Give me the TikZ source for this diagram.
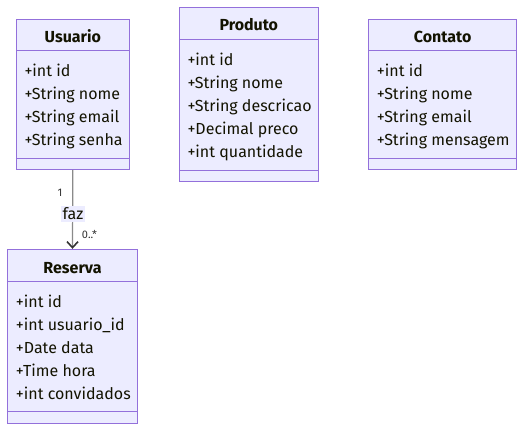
\documentclass[tikz,border=0pt]{standalone}
\usepackage{fontspec}
\setmainfont{Fira Sans}
\usetikzlibrary{arrows.meta}
\definecolor{classfill}{HTML}{ECECFF}
\definecolor{classline}{HTML}{9370DB}
\definecolor{classtext}{HTML}{131300}
\definecolor{edgeline}{HTML}{8A8A8A}
\definecolor{edgehead}{HTML}{333333}

\begin{document}
\begin{tikzpicture}[x=1pt, y=-1pt,
		classbox/.style={draw=classline, fill=classfill, line width=1pt, inner sep=0pt},
		sepline/.style={draw=classline, line width=1pt},
		classtitle/.style={anchor=base, inner sep=0pt, text=classtext, font=\fontsize{16}{19}\selectfont\bfseries},
		attr/.style={anchor=base west, inner sep=0pt, text=classtext, font=\fontsize{16}{19}\selectfont},
		mult/.style={inner sep=0pt, text=edgehead, font=\fontsize{11}{13}\selectfont},
		edgelabel/.style={fill=classfill, inner xsep=1.5pt, inner ysep=2pt, text=classtext, font=\fontsize{16}{19}\selectfont}]
			%%%%% START %%%%%
			\useasboundingbox (0, 0) rectangle (524, 431);
			
			% Usuario
			\node[classbox, minimum width=113pt, minimum height=150pt] (usuario) at (72.8, 94.3) {};
			\draw[sepline] (usuario.west |- 0, 50.7) -- (usuario.east |- 0, 50.7);
			\draw[sepline] (usuario.west |- 0, 158.7) -- (usuario.east |- 0, 158.7);
			\node[classtitle] (usuariotitle) at (72.8, 42) {Usuario};
			\node[attr] (u1) at (24.3, 76) {+int id};
			\node[attr] (u2) at (24.3, 99) {+String nome};
			\node[attr] (u3) at (24.3, 122) {+String email};
			\node[attr] (u4) at (24.3, 145) {+String senha};
			
			% Produto
			\node[classbox, minimum width=139pt, minimum height=173.7pt] (produto) at (248.8, 94.2) {};
			\draw[sepline] (produto.west |- 0, 39) -- (produto.east |- 0, 39);
			\draw[sepline] (produto.west |- 0, 170) -- (produto.east |- 0, 170);
			\node[classtitle] (produtotitle) at (248.8, 30.8) {Produto};
			\node[attr] (p1) at (187.3, 65.7) {+int id};
			\node[attr] (p2) at (187.3, 88.7) {+String nome};
			\node[attr] (p3) at (187.3, 111.7) {+String descricao};
			\node[attr] (p4) at (187.3, 134.7) {+Decimal preco};
			\node[attr] (p5) at (187.3, 157.7) {+int quantidade};
			
			% Contato
			\node[classbox, minimum width=148pt, minimum height=149.6pt] (contato) at (442.7, 94.5) {};
			\draw[sepline] (contato.west |- 0, 50.7) -- (contato.east |- 0, 50.7);
			\draw[sepline] (contato.west |- 0, 158.7) -- (contato.east |- 0, 158.7);
			\node[classtitle] (contatotitle) at (442.7, 42) {Contato};
			\node[attr] (c1) at (376.7, 76) {+int id};
			\node[attr] (c2) at (376.7, 99) {+String nome};
			\node[attr] (c3) at (376.7, 122) {+String email};
			\node[attr] (c4) at (376.7, 145) {+String mensagem};
			
			% Reserva
			\node[classbox, minimum width=130.4pt, minimum height=174pt] (reserva) at (72.5, 336.3) {};
			\draw[sepline] (reserva.west |- 0, 281) -- (reserva.east |- 0, 281);
			\draw[sepline] (reserva.west |- 0, 411.7) -- (reserva.east |- 0, 411.7);
			\node[classtitle] (reservatitle) at (72.5, 273) {Reserva};
			\node[attr] (r1) at (15.7, 307.3) {+int id};
			\node[attr] (r2) at (15.7, 330.3) {+int usuario\_id};
			\node[attr] (r3) at (15.7, 353.3) {+Date data};
			\node[attr] (r4) at (15.7, 376.3) {+Time hora};
			\node[attr] (r5) at (15.7, 399.3) {+int convidados};
			
			% faz
			\draw[draw=edgeline, line width=1.2pt, -{Straight Barb[length=6pt, width=11pt, line width=1.6pt, color=edgehead]}]
				(usuario.south) -- (reserva.north);
			\node[edgelabel] (faz) at (73, 214) {faz};
			\node[mult] (multone) at (60, 193) {1};
			\node[mult] (multmany) at (89.5, 234) {0..*};
			%%%%% END %%%%%
\end{tikzpicture}
\end{document}
